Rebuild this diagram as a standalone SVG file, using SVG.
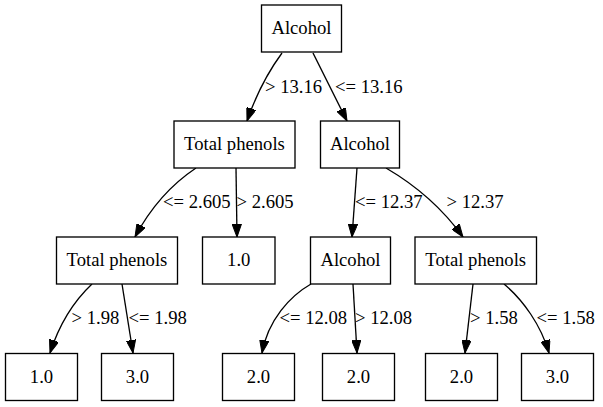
<svg xmlns="http://www.w3.org/2000/svg" width="603" height="407" viewBox="0 0 603 407">
<defs>
<style>
.n rect{fill:#fff;stroke:#000;stroke-width:1.33}
.n text{font-family:"Liberation Serif","Times New Roman",serif;font-size:18.67px;text-anchor:middle;fill:#000}
.e path{fill:none;stroke:#000;stroke-width:1.33}
.e text{font-family:"Liberation Serif","Times New Roman",serif;font-size:18.67px;fill:#000}
</style>
<marker id="arr" markerUnits="userSpaceOnUse" viewBox="0 0 13 9.4" markerWidth="13" markerHeight="9.4" refX="13" refY="4.7" orient="auto">
<path d="M0,0 L13,4.7 L0,9.4 z" fill="#000" stroke="#000" stroke-width="1"/>
</marker>
</defs>
<rect width="603" height="407" fill="#fff"/>
<g id="edges" class="e">
<path d="M282,53 C268,72 256,95 247,121" marker-end="url(#arr)"/>
<text x="265" y="92.5">&gt; 13.16</text>
<path d="M313,53 L347,121" marker-end="url(#arr)"/>
<text x="335" y="92.5">&lt;= 13.16</text>
<path d="M196,168 C175,182 152,205 135,237" marker-end="url(#arr)"/>
<text x="163" y="208">&lt;= 2.605</text>
<path d="M236,168 L237,237" marker-end="url(#arr)"/>
<text x="236.5" y="208">&gt; 2.605</text>
<path d="M357,168 L352,237" marker-end="url(#arr)"/>
<text x="355" y="208">&lt;= 12.37</text>
<path d="M386,168 C410,182 440,205 463,237" marker-end="url(#arr)"/>
<text x="446.5" y="208">&gt; 12.37</text>
<path d="M92,284 C75,300 60,322 50,353" marker-end="url(#arr)"/>
<text x="71.5" y="324">&gt; 1.98</text>
<path d="M122,284 L133,353" marker-end="url(#arr)"/>
<text x="128.5" y="324">&lt;= 1.98</text>
<path d="M311,284 C290,296 268,320 262,353" marker-end="url(#arr)"/>
<text x="279.5" y="324">&lt;= 12.08</text>
<path d="M353,284 L357,353" marker-end="url(#arr)"/>
<text x="355" y="324">&gt; 12.08</text>
<path d="M473,284 L465,353" marker-end="url(#arr)"/>
<text x="470" y="324">&gt; 1.58</text>
<path d="M504,284 C523,300 541,325 549,353" marker-end="url(#arr)"/>
<text x="536.5" y="324">&lt;= 1.58</text>
</g>
<g id="n0" class="n"><rect x="261.5" y="5" width="80" height="47"/><text x="301.5" y="34">Alcohol</text></g>
<g id="n1" class="n"><rect x="174" y="121" width="121" height="47"/><text x="234.5" y="150">Total phenols</text></g>
<g id="n2" class="n"><rect x="320.5" y="121" width="79" height="47"/><text x="360" y="150">Alcohol</text></g>
<g id="n3" class="n"><rect x="56.5" y="237" width="121" height="47"/><text x="117" y="266">Total phenols</text></g>
<g id="n4" class="n"><rect x="202.5" y="237" width="72.5" height="47"/><text x="238.75" y="266">1.0</text></g>
<g id="n5" class="n"><rect x="310.5" y="237" width="80" height="47"/><text x="350.5" y="266">Alcohol</text></g>
<g id="n6" class="n"><rect x="415" y="237" width="121.5" height="47"/><text x="475.75" y="266">Total phenols</text></g>
<g id="n7" class="n"><rect x="5.5" y="353.5" width="72" height="47"/><text x="41.5" y="382.5">1.0</text></g>
<g id="n8" class="n"><rect x="101.5" y="353.5" width="72" height="47"/><text x="137.5" y="382.5">3.0</text></g>
<g id="n9" class="n"><rect x="222.5" y="353.5" width="72" height="47"/><text x="258.5" y="382.5">2.0</text></g>
<g id="n10" class="n"><rect x="322.5" y="353.5" width="72" height="47"/><text x="358.5" y="382.5">2.0</text></g>
<g id="n11" class="n"><rect x="425.5" y="353.5" width="72" height="47"/><text x="461.5" y="382.5">2.0</text></g>
<g id="n12" class="n"><rect x="521.5" y="353.5" width="72" height="47"/><text x="557.5" y="382.5">3.0</text></g>
</svg>
